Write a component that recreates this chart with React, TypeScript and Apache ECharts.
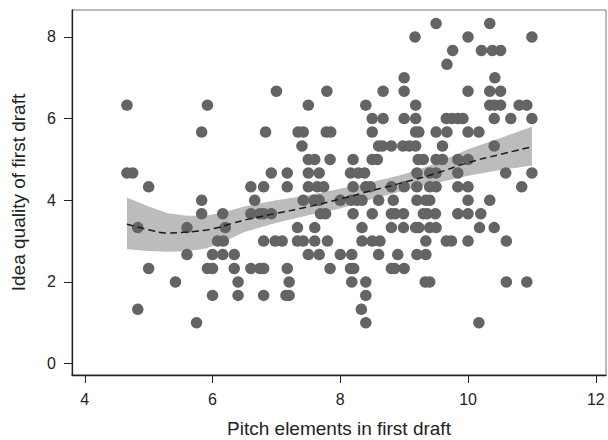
import { useEffect, useRef } from "react";
import * as echarts from "echarts";

// Axis ticks
const xTicks = [4, 6, 8, 10, 12];
const yTicks = [0, 2, 4, 6, 8];

// Idea quality levels (y) and the pitch-element values (x) of the points at each level
const qualityLevels = [
  8.33, 8, 7.67, 7.33, 7, 6.67, 6.33, 6, 5.67, 5.33, 5, 4.67, 4.33, 4, 3.67, 3.33, 3, 2.67, 2.33, 2, 1.67, 1.33, 1,
];
const pitchAtLevel = [
  [9.5, 10.34],
  [9.17, 10.0, 11.0],
  [9.76, 10.21, 10.38, 10.51],
  [9.67],
  [9.0, 10.42],
  [7.0, 7.79, 8.67, 9.0, 10.0, 10.34, 10.51],
  [4.66, 5.92, 7.5, 8.4, 9.18, 10.34, 10.42, 10.51, 10.8, 10.92],
  [8.5, 8.67, 9.0, 9.18, 9.66, 9.75, 9.84, 9.92, 10.41, 10.67, 11.0],
  [5.83, 6.83, 7.34, 7.42, 7.78, 7.85, 8.5, 9.18, 9.23, 9.5, 9.67, 10.0, 10.17],
  [7.4, 8.6, 8.66, 8.8, 8.98, 9.08, 9.18, 9.6, 10.41],
  [7.5, 7.6, 7.84, 8.2, 8.5, 8.58, 9.22, 9.3, 9.5, 9.6, 9.84, 10.0],
  [4.66, 4.75, 6.92, 7.17, 7.5, 7.67, 8.16, 8.28, 8.38, 9.2, 9.4, 9.5, 9.84, 10.59, 11.0],
  [5.0, 6.6, 6.8, 7.17, 7.5, 7.64, 7.74, 8.2, 8.4, 8.47, 8.8, 9.0, 9.2, 9.4, 9.5, 9.84, 10.0, 10.84],
  [5.83, 6.66, 7.42, 7.59, 7.67, 8.0, 8.17, 8.26, 8.34, 8.6, 8.83, 9.2, 9.34, 9.4, 10.0, 10.34],
  [5.83, 6.16, 6.6, 6.74, 6.8, 6.92, 7.69, 7.77, 8.2, 8.5, 8.8, 8.86, 8.99, 9.3, 9.36, 9.49, 9.84, 10.0, 10.2],
  [4.83, 5.6, 6.2, 7.33, 7.6, 8.34, 8.8, 8.99, 9.18, 9.23, 9.4, 9.5, 10.18, 10.41],
  [6.08, 6.17, 6.8, 6.98, 7.09, 7.33, 7.42, 7.6, 7.8, 8.34, 8.5, 8.62, 9.34, 9.66, 9.74, 10.0, 10.6],
  [5.6, 6.0, 6.16, 6.34, 7.5, 7.67, 8.0, 8.18, 8.6, 8.9, 9.2, 9.34],
  [5.0, 5.92, 6.0, 6.34, 6.6, 6.74, 6.8, 7.17, 7.84, 8.16, 8.21, 8.8, 8.85, 9.0],
  [5.42, 6.4, 7.2, 8.18, 8.4, 9.33, 9.4, 10.6, 10.92],
  [6.0, 6.4, 6.8, 7.15, 7.2, 8.4],
  [4.83, 8.33],
  [5.75, 8.4, 10.17],
];

// Fitted curve
const fitX = [4.66, 5.0, 5.3, 5.6, 6.0, 6.3, 6.6, 7.0, 7.5, 8.0, 8.5, 9.0, 9.5, 10.0, 10.5, 11.0];
const fitY = [3.41, 3.28, 3.2, 3.22, 3.3, 3.43, 3.55, 3.68, 3.84, 4.03, 4.24, 4.44, 4.66, 4.92, 5.12, 5.31];

// Confidence band
const bandX = [4.66, 5.0, 5.3, 5.6, 5.9, 6.2, 6.5, 7.0, 7.5, 8.0, 8.5, 9.0, 9.5, 10.0, 10.5, 11.0];
const bandLower = [2.8, 2.76, 2.74, 2.75, 2.82, 3.0, 3.22, 3.45, 3.63, 3.8, 4.03, 4.24, 4.42, 4.6, 4.74, 4.85];
const bandUpper = [4.07, 3.85, 3.68, 3.62, 3.62, 3.72, 3.85, 4.0, 4.12, 4.28, 4.45, 4.64, 4.9, 5.25, 5.52, 5.8];

const FONT = "'Liberation Sans', Arial, Helvetica, sans-serif";

export default function App() {
  const ref = useRef<HTMLDivElement>(null);

  useEffect(() => {
    if (!ref.current) return;
    const chart = echarts.init(ref.current, undefined, { renderer: "svg" });

    const points: number[][] = [];
    qualityLevels.forEach((q, i) => {
      pitchAtLevel[i].forEach((p) => points.push([p, q]));
    });

    chart.setOption({
      animation: false,
      backgroundColor: "#ffffff",
      grid: {
        left: 72,
        top: 10,
        right: 2,
        bottom: 65,
        show: true,
        borderColor: "#777777",
        borderWidth: 1,
        containLabel: false,
        outerBoundsMode: "none",
      },
      xAxis: {
        type: "value",
        min: 3.8,
        max: 12.16,
        name: "Pitch elements in first draft",
        nameLocation: "middle",
        nameGap: 44,
        nameTextStyle: { fontSize: 19, color: "#222", fontFamily: FONT },
        axisLine: { show: true, onZero: false, lineStyle: { color: "#222", width: 1.3 } },
        axisTick: { show: true, length: 8, customValues: xTicks, lineStyle: { color: "#222" } },
        axisLabel: { customValues: xTicks, fontSize: 16, color: "#222", margin: 16, fontFamily: FONT },
        splitLine: { show: false },
      },
      yAxis: {
        type: "value",
        min: -0.28,
        max: 8.66,
        name: "Idea quality of first draft",
        nameLocation: "middle",
        nameGap: 44,
        nameTextStyle: { fontSize: 19, color: "#222", fontFamily: FONT },
        axisLine: { show: true, onZero: false, lineStyle: { color: "#222", width: 1.3 } },
        axisTick: { show: true, length: 8, customValues: yTicks, lineStyle: { color: "#222" } },
        axisLabel: { customValues: yTicks, fontSize: 16, color: "#222", margin: 16, fontFamily: FONT },
        splitLine: { show: false },
      },
      series: [
        {
          type: "custom",
          silent: true,
          z: 1,
          data: bandX.map((x, i) => [x, bandLower[i], bandUpper[i]]),
          encode: { x: 0, y: [1, 2] },
          renderItem: (params: any, api: any) => {
            if (params.dataIndex !== 0) return null;
            const pts: number[][] = [];
            for (let i = 0; i < bandX.length; i++) pts.push(api.coord([bandX[i], bandUpper[i]]));
            for (let i = bandX.length - 1; i >= 0; i--) pts.push(api.coord([bandX[i], bandLower[i]]));
            return { type: "polygon", shape: { points: pts }, style: { fill: "#bcbcbe" } };
          },
        },
        {
          type: "scatter",
          z: 2,
          symbolSize: 11.5,
          itemStyle: { color: "#646464", opacity: 1 },
          data: points,
        },
        {
          type: "line",
          z: 3,
          smooth: true,
          showSymbol: false,
          lineStyle: { color: "#1a1a1a", width: 1.5, type: [7, 4] },
          data: fitX.map((x, i) => [x, fitY[i]]),
        },
      ],
    });

    return () => chart.dispose();
  }, []);

  return (
    <div
      ref={ref}
      style={{ position: "fixed", left: 0, top: 0, width: 608, height: 440, background: "#fff" }}
    />
  );
}
